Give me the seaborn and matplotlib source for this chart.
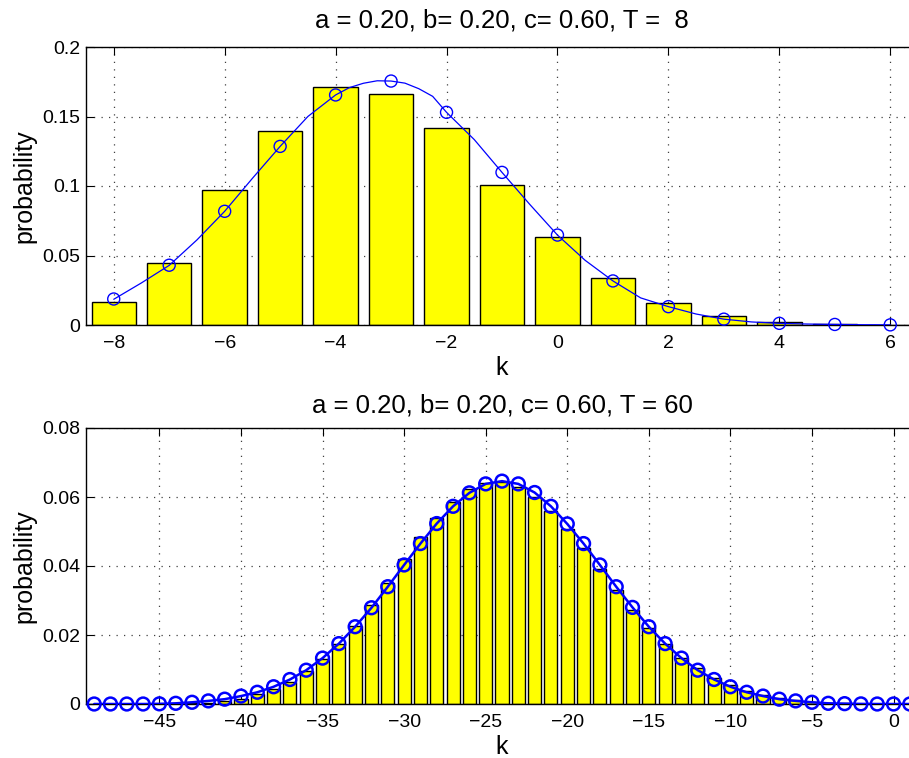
import numpy as np
import pandas as pd
import seaborn as sns
import matplotlib
matplotlib.use("Agg")
import matplotlib.pyplot as plt

# ---------------- data ----------------
# Top panel, T = 8
k_top = [-8, -7, -6, -5, -4, -3, -2, -1, 0, 1, 2, 3, 4, 5, 6]
bars_top = [0.0168, 0.0448, 0.0970, 0.1393, 0.1712, 0.1661, 0.1417, 0.1006,
            0.0631, 0.0336, 0.0158, 0.0065, 0.0022, 0.0008, 0.0001]
circ_top = [0.0187, 0.0430, 0.0818, 0.1285, 0.1655, 0.1755, 0.1530, 0.1098,
            0.0647, 0.0317, 0.0132, 0.0042, 0.0012, 0.0004, 0.0001]
# smooth approximation curve at finer steps
kcurve_top = [-8, -7.5, -7, -6.5, -6, -5.5, -5, -4.5, -4, -3.75, -3.5, -3.25,
              -3, -2.75, -2.5, -2.25, -2, -1.5, -1, -0.5, 0, 0.5, 1, 1.5, 2,
              2.5, 3, 3.5, 4, 4.5, 5, 5.5, 6]
curve_top = [0.0185, 0.0303, 0.0429, 0.0612, 0.0818, 0.1055, 0.1285, 0.1500,
             0.1655, 0.1708, 0.1739, 0.1757, 0.1755, 0.1740, 0.1700, 0.1645,
             0.1530, 0.1334, 0.1098, 0.0868, 0.0647, 0.0465, 0.0317, 0.0195,
             0.0132, 0.0079, 0.0042, 0.0022, 0.0012, 0.0007, 0.0004, 0.0002,
             0.0001]

# Bottom panel, T = 60
k_bot = list(range(-49, 2))
bars_bot = [0, 0, 0, 0, 0.00004, 0.0001, 0.0002, 0.0004, 0.0008, 0.0015,
            0.0029, 0.0043, 0.0064, 0.0096, 0.0130, 0.0174, 0.0226, 0.0286,
            0.0350, 0.0419, 0.0483, 0.0540, 0.0586, 0.0622, 0.0642, 0.0644,
            0.0630, 0.0599, 0.0559, 0.0508, 0.0451, 0.0390, 0.0330, 0.0272,
            0.0220, 0.0174, 0.0134, 0.0103, 0.0076, 0.0054, 0.0039, 0.0025,
            0.0017, 0.0012, 0.0007, 0.0004, 0.0002, 0.0001, 0.00005, 0.00002, 0]
circ_bot = [0, 0, 0, 0, 0.00005, 0.0002, 0.0005, 0.0009, 0.0014, 0.0023,
            0.0034, 0.0050, 0.0071, 0.0098, 0.0133, 0.0175, 0.0224, 0.0279,
            0.0340, 0.0403, 0.0465, 0.0523, 0.0573, 0.0612, 0.0638, 0.0646,
            0.0638, 0.0613, 0.0573, 0.0522, 0.0465, 0.0403, 0.0340, 0.0280,
            0.0224, 0.0175, 0.0133, 0.0098, 0.0071, 0.0050, 0.0034, 0.0023,
            0.0014, 0.0009, 0.0005, 0.0002, 0.0001, 0.00003, 0, 0, 0]

title_top = "a = 0.20, b= 0.20, c= 0.60, T =  8"
title_bot = "a = 0.20, b= 0.20, c= 0.60, T = 60"
xticks_top = [-8, -6, -4, -2, 0, 2, 4, 6]
yticks_top = [0, 0.05, 0.1, 0.15, 0.2]
yticklabels_top = ["0", "0.05", "0.1", "0.15", "0.2"]
xticks_bot = [-45, -40, -35, -30, -25, -20, -15, -10, -5, 0]
yticks_bot = [0, 0.02, 0.04, 0.06, 0.08]
yticklabels_bot = ["0", "0.02", "0.04", "0.06", "0.08"]

# ---------------- style ----------------
sns.set_style("white")
plt.rcParams["font.family"] = ["Liberation Sans", "DejaVu Sans"]
plt.rcParams["axes.unicode_minus"] = True
plt.rcParams["text.color"] = "black"
plt.rcParams["axes.labelcolor"] = "black"
plt.rcParams["xtick.color"] = "black"
plt.rcParams["ytick.color"] = "black"

W, H = 909, 758
fig = plt.figure(figsize=(W / 100, H / 100), dpi=100)
fig.patch.set_facecolor("white")

left = 86 / W
width = (918 - 86) / W
ax1 = fig.add_axes([left, (H - 325) / H, width, 278 / H])
ax2 = fig.add_axes([left, (H - 704) / H, width, 276 / H])


def style_axes(ax, xticks, yticks, yticklabels, xlim, ylim, title, tpad):
    ax.set_xlim(*xlim)
    ax.set_ylim(*ylim)
    ax.set_xticks(xticks)
    ax.set_xticklabels([("\u2212" + str(abs(t))) if t < 0 else str(t) for t in xticks])
    ax.set_yticks(yticks)
    ax.set_yticklabels(yticklabels)
    ax.tick_params(axis="both", direction="in", length=5.5, width=0.8,
                   labelsize=14, colors="black", labelcolor="black",
                   top=True, right=False, bottom=True, left=True)
    ax.tick_params(axis="y", pad=4)
    ax.tick_params(axis="x", pad=7)
    ax.grid(True, linestyle=(0, (1, 5)), linewidth=0.9, color="0.25")
    ax.set_axisbelow(True)
    for s in ax.spines.values():
        s.set_color("black")
        s.set_linewidth(1.0)
    ax.spines["right"].set_visible(False)
    ax.set_xlabel("k", fontsize=18, labelpad=3, color="black")
    ax.set_ylabel("probability", fontsize=18, labelpad=4, color="black")
    ax.set_title(title, fontsize=18.5, pad=tpad, color="black")


# ---------------- top panel ----------------
df_top = pd.DataFrame({"k": k_top, "p": bars_top})
sns.barplot(data=df_top, x="k", y="p", native_scale=True, width=0.8,
            color="#ffff00", saturation=1, edgecolor="black", linewidth=1.0,
            ax=ax1, zorder=2)
sns.lineplot(x=kcurve_top, y=curve_top, color="blue", linewidth=0.9,
             ax=ax1, zorder=3)
sns.scatterplot(x=k_top, y=circ_top, marker="o", s=75, facecolors="none",
                edgecolor="blue", linewidth=1.0, ax=ax1, zorder=4, clip_on=False)
style_axes(ax1, xticks_top, yticks_top, yticklabels_top, (-8.5, 6.5), (0, 0.2),
           title_top, 14)

# ---------------- bottom panel ----------------
df_bot = pd.DataFrame({"k": k_bot, "p": bars_bot})
sns.barplot(data=df_bot, x="k", y="p", native_scale=True, width=0.8,
            color="#ffff00", saturation=1, edgecolor="black", linewidth=1.0,
            ax=ax2, zorder=2)
sns.lineplot(x=k_bot, y=circ_bot, color="blue", linewidth=1.8, ax=ax2, zorder=3)
sns.scatterplot(x=k_bot, y=circ_bot, marker="o", s=85, facecolors="none",
                edgecolor="blue", linewidth=1.8, ax=ax2, zorder=4, clip_on=False)
style_axes(ax2, xticks_bot, yticks_bot, yticklabels_bot, (-49.5, 1.5), (0, 0.08),
           title_bot, 11)

fig.savefig("out.png", dpi=100, facecolor="white")
